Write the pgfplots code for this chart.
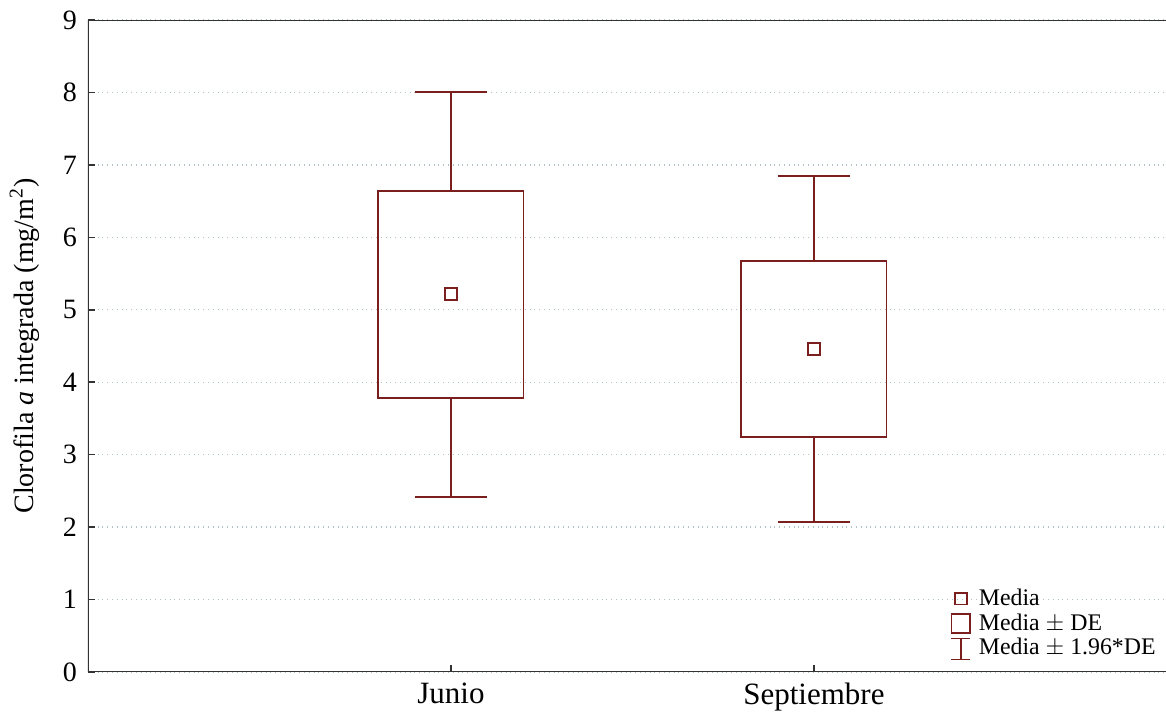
\documentclass[border=0pt]{standalone}
\usepackage{fontspec}
\setmainfont{Liberation Serif}
\usepackage{pgfplots}
\pgfplotsset{compat=1.18}
\usepgfplotslibrary{statistics}
\definecolor{dred}{RGB}{122,30,30}
\definecolor{gridc}{RGB}{175,195,198}
\begin{document}
\begin{tikzpicture}
\begin{axis}[
  scale only axis,
  width=539pt, height=326pt,
  xmin=0, xmax=2.97,
  ymin=0, ymax=9,
  ytick={0,1,...,9},
  xtick={1,2},
  xticklabels={Junio,Septiembre},
  axis line style={draw=none},
  tick align=inside,
  xtick pos=bottom, ytick pos=left,
  major tick length=3.5pt,
  tick style={black!80, line width=0.8pt},
  ymajorgrids,
  y grid style={gridc, dotted, line width=0.7pt},
  /pgf/number format/assume math mode=true,
  yticklabel style={font=\fontsize{14}{16}\selectfont, xshift=-2pt},
  xticklabel style={font=\fontsize{15.5}{17}\selectfont, yshift=-2pt},
  ylabel={Clorofila \textit{a} integrada (mg/m\textsuperscript{2})},
  ylabel style={font=\fontsize{14}{16}\selectfont, yshift=5pt},
  boxplot/draw direction=y,
  boxplot/every median/.style={draw=none},
  boxplot/every average/.style={/tikz/mark=square, /tikz/mark size=2.9pt, /tikz/mark options={dred, line width=0.9pt}},
  legend style={at={(rel axis cs:1.0,0.012)}, anchor=south east, draw=none, fill=none,
    font=\fontsize{11.9}{13}\selectfont, row sep=-1.5pt, inner sep=1pt,
    nodes={inner xsep=4pt}},
  legend cell align=left,
]
\addplot[dred, line width=0.9pt, forget plot,
  boxplot prepared={lower whisker=2.42, lower quartile=3.78, median=5.22,
    upper quartile=6.64, upper whisker=8.01, average=5.22,
    draw position=1, box extend=0.4, whisker extend=0.2}] coordinates {};
\addplot[dred, line width=0.9pt, forget plot,
  boxplot prepared={lower whisker=2.07, lower quartile=3.24, median=4.46,
    upper quartile=5.67, upper whisker=6.85, average=4.46,
    draw position=2, box extend=0.4, whisker extend=0.2}] coordinates {};
\addlegendimage{legend image code/.code={\draw[dred, line width=0.8pt] (0.30cm,-0.1cm) rectangle (0.51cm,0.11cm);}}
\addlegendentry{Media}
\addlegendimage{legend image code/.code={\draw[dred, line width=0.8pt] (0.24cm,-0.17cm) rectangle (0.57cm,0.17cm);}}
\addlegendentry{Media $\pm$ DE}
\addlegendimage{legend image code/.code={\draw[dred, line width=0.8pt] (0.24cm,-0.2cm) -- (0.57cm,-0.2cm) (0.405cm,-0.2cm) -- (0.405cm,0.17cm) (0.24cm,0.17cm) -- (0.57cm,0.17cm);}}
\addlegendentry{Media $\pm$ 1.96*DE}
\draw[black!80, line width=0.9pt] (rel axis cs:1,1) -- (rel axis cs:0,1) -- (rel axis cs:0,0) -- (rel axis cs:1,0);
\coordinate (bl) at (rel axis cs:0,0);
\coordinate (tr) at (rel axis cs:1,1);
\end{axis}
\pgfresetboundingbox
\path[use as bounding box] ([xshift=-44pt,yshift=-21.5pt]bl) rectangle ([yshift=10pt]tr);
\end{tikzpicture}
\end{document}
